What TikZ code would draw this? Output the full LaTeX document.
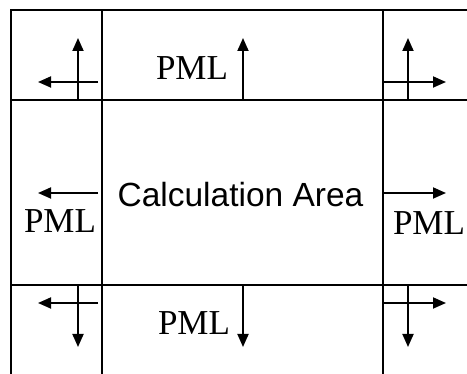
\documentclass[tikz,border=0pt]{standalone}
\usepackage{fontspec}
\setmainfont{Liberation Serif}
\newfontfamily\arialfont{Liberation Sans}
\usetikzlibrary{arrows.meta}
\begin{document}
\begin{tikzpicture}[x=1pt,y=-1pt,
  frame/.style={line width=2.6pt},
  ray/.style={line width=1.8pt,-{Triangle[length=13pt,width=11pt]}},
  pml/.style={font=\fontsize{35}{40}\selectfont,anchor=base,inner sep=0pt},
  calc/.style={font=\arialfont\fontsize{33.5}{40}\selectfont,anchor=base,inner sep=0pt}]
\useasboundingbox (0,0) rectangle (467,374);

% grid of the domain
\draw[frame,line join=miter] (11,374) -- (11,10) -- (467,10);
\draw[frame] (102,10) -- (102,374);
\draw[frame] (383,10) -- (383,374);
\draw[frame] (11,100) -- (467,100);
\draw[frame] (11,285) -- (467,285);

% labels
\node[calc] (calc) at (240.5,207) {Calculation Area};
\node[pml] (pmlT) at (192,80) {PML};
\node[pml] (pmlB) at (194,335) {PML};
\node[pml] (pmlL) at (60,233) {PML};
\node[pml] (pmlR) at (429,235) {PML};

% arrow end points
\coordinate (tS) at (243,100);  \coordinate (tE) at (243,38);
\coordinate (bS) at (243,285);  \coordinate (bE) at (243,347);
\coordinate (lS) at (98,193);   \coordinate (lE) at (38,193);
\coordinate (rS) at (383,193);  \coordinate (rE) at (446,193);

\coordinate (tlvS) at (78,100); \coordinate (tlvE) at (78,38);
\coordinate (tlhS) at (98,82);  \coordinate (tlhE) at (38,82);
\coordinate (trvS) at (408,100);\coordinate (trvE) at (408,38);
\coordinate (trhS) at (383,82); \coordinate (trhE) at (446,82);
\coordinate (blvS) at (78,285); \coordinate (blvE) at (78,347);
\coordinate (blhS) at (98,303); \coordinate (blhE) at (38,303);
\coordinate (brvS) at (408,285);\coordinate (brvE) at (408,347);
\coordinate (brhS) at (383,303);\coordinate (brhE) at (446,303);

% outgoing directions
\draw[ray] (tS) -- (tE);
\draw[ray] (bS) -- (bE);
\draw[ray] (lS) -- (lE);
\draw[ray] (rS) -- (rE);
\draw[ray] (tlvS) -- (tlvE);
\draw[ray] (tlhS) -- (tlhE);
\draw[ray] (trvS) -- (trvE);
\draw[ray] (trhS) -- (trhE);
\draw[ray] (blvS) -- (blvE);
\draw[ray] (blhS) -- (blhE);
\draw[ray] (brvS) -- (brvE);
\draw[ray] (brhS) -- (brhE);
\end{tikzpicture}
\end{document}
